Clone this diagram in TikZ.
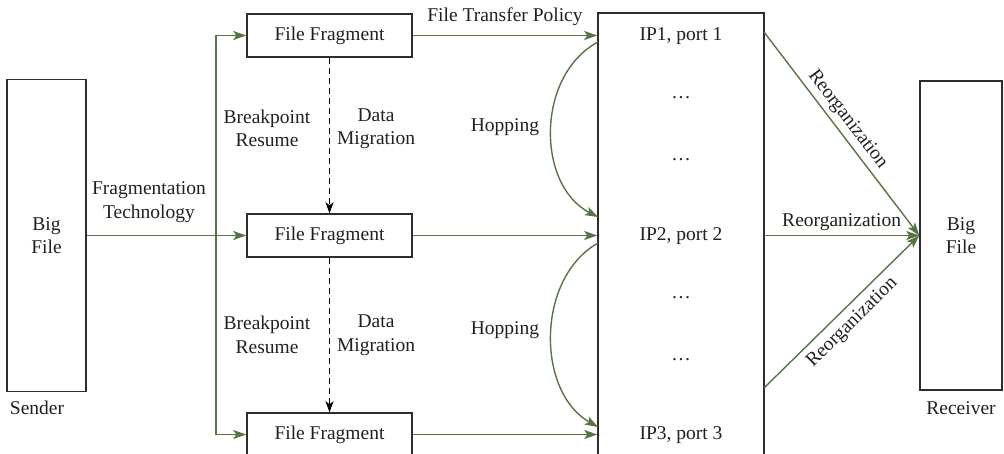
\documentclass[tikz,border=0pt]{standalone}
\usepackage{fontspec}
\setmainfont{Liberation Serif}
\usetikzlibrary{arrows.meta}
\definecolor{gline}{RGB}{88,116,68}
\definecolor{boxc}{RGB}{45,45,45}
\definecolor{txt}{RGB}{35,31,32}
\begin{document}
\begin{tikzpicture}[x=1pt,y=-1pt,
  every node/.style={text=txt,font=\fontsize{19.5}{23.5}\selectfont},
  blk/.style={draw=boxc,line width=1.5pt,inner sep=0pt,align=center},
  lbl/.style={align=center,inner sep=0pt},
  garrow/.style={draw=gline,line width=1.4pt,-{Stealth[length=13pt,width=9pt,inset=3pt]}},
  darrow/.style={draw=black,line width=1.2pt,dashed,dash pattern=on 6pt off 4pt,-{Stealth[length=11pt,width=8pt,inset=3pt]}}]
\useasboundingbox (0,0) rectangle (1004,453);
% boxes
\node[blk,minimum width=79,minimum height=312] (bigL) at (46.5,235.5) {Big\\File};
\node[blk,minimum width=165,minimum height=43] (frag1) at (329.5,35.5) {File Fragment};
\node[blk,minimum width=165,minimum height=43] (frag2) at (329.5,235.5) {File Fragment};
\node[blk,minimum width=165,minimum height=43] (frag3) at (329.5,434.5) {File Fragment};
\node[blk,minimum width=166,minimum height=460] (ip) at (681,243) {};
\node[blk,minimum width=82,minimum height=309] (recv) at (961,235.5) {Big\\File};
% texts
\node[lbl] (snd) at (37,408) {Sender};
\node[lbl] (rcv) at (961,408) {Receiver};
\node[lbl] (ftech) at (149,202) {Fragmentation\\Technology};
\node[lbl] (br1) at (267,128.5) {Breakpoint\\Resume};
\node[lbl] (dm1) at (376,128.5) {Data\\Migration};
\node[lbl] (br2) at (267,335) {Breakpoint\\Resume};
\node[lbl] (dm2) at (376,335) {Data\\Migration};
\node[lbl] (ftp) at (505,17) {File Transfer Policy};
\node[lbl] (hop1) at (505,127) {Hopping};
\node[lbl] (hop2) at (505,330) {Hopping};
\node[lbl] (ip1) at (681,36) {IP1, port 1};
\node[lbl] (ip2) at (681,236) {IP2, port 2};
\node[lbl] (ip3) at (681,435) {IP3, port 3};
\node[lbl] (d1) at (681,98) {…};
\node[lbl] (d2) at (681,160) {…};
\node[lbl] (d3) at (681,298) {…};
\node[lbl] (d4) at (681,360) {…};
% coordinates
\coordinate (j) at (216,235.5);
\coordinate (h1s) at (598,42);
\coordinate (h1e) at (598,217);
\coordinate (h2s) at (598,243);
\coordinate (h2e) at (598,427);
\coordinate (r1) at (764,32);
\coordinate (r2) at (764,235.5);
\coordinate (r3) at (764,388);
% connectors
\draw[garrow] (bigL.east) -- (frag2.west);
\draw[garrow] (j) |- (frag1.west);
\draw[garrow] (j) |- (frag3.west);
\draw[garrow] (frag1.east) -- (frag1.east -| ip.west);
\draw[garrow] (frag2.east) -- (frag2.east -| ip.west);
\draw[garrow] (frag3.east) -- (frag3.east -| ip.west);
\draw[darrow] (frag1.south) -- (frag2.north);
\draw[darrow] (frag2.south) -- (frag3.north);
\draw[garrow] (h1s) .. controls (536,75) and (536,185) .. (h1e);
\draw[garrow] (h2s) .. controls (536,278) and (536,392) .. (h2e);
\draw[garrow] (r1) -- node[pos=0.47,sloped,above=4pt,inner sep=0pt] {Reorganization} (recv.west);
\draw[garrow] (r2) -- node[above=4pt,inner sep=0pt] {Reorganization} (recv.west);
\draw[garrow] (r3) -- node[pos=0.5,sloped,below=6pt,inner sep=0pt] {Reorganization} (recv.west);
\end{tikzpicture}
\end{document}
